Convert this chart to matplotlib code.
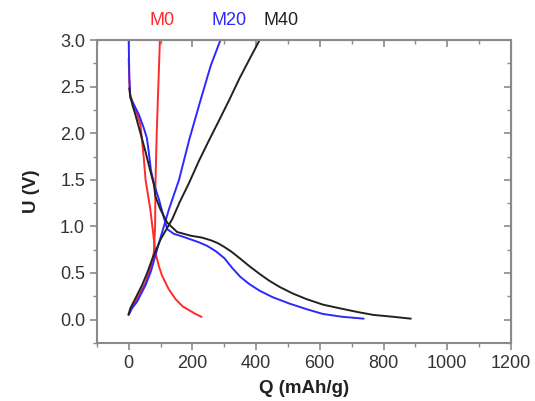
import matplotlib
matplotlib.use("Agg")
import matplotlib.pyplot as plt
import numpy as np

plt.rcParams['font.family'] = ['Liberation Sans', 'DejaVu Sans']

# M0
m0_dis_q = [0, 2, 4, 10, 25, 37, 47, 53, 60, 68, 76, 84, 95, 105, 125, 147, 170, 190, 210, 228]
m0_dis_u = [2.80, 2.55, 2.42, 2.36, 2.22, 2.09, 1.75, 1.50, 1.35, 1.18, 0.95, 0.72, 0.57, 0.47, 0.33, 0.22, 0.14, 0.10, 0.06, 0.03]
m0_chg_q = [0, 10, 21, 38, 53, 68, 79, 83, 84, 88, 93, 98]
m0_chg_u = [0.06, 0.12, 0.19, 0.30, 0.40, 0.55, 0.72, 1.00, 1.45, 2.00, 2.50, 3.00]

# M20
m20_dis_q = [0, 2, 5, 16, 32, 47, 57, 63, 70, 80, 95, 110, 121, 142, 170, 195, 220, 247, 275, 300,
             326, 350, 379, 411, 452, 506, 560, 610, 670, 737]
m20_dis_u = [3.00, 2.60, 2.38, 2.31, 2.20, 2.06, 1.95, 1.80, 1.60, 1.45, 1.29, 1.10, 0.97, 0.92, 0.89, 0.86, 0.83, 0.79, 0.73, 0.66,
             0.55, 0.46, 0.38, 0.31, 0.24, 0.17, 0.11, 0.06, 0.03, 0.01]
m20_chg_q = [0, 10, 26, 53, 70, 84, 100, 126, 158, 190, 226, 258, 288]
m20_chg_u = [0.05, 0.12, 0.19, 0.37, 0.52, 0.69, 0.88, 1.18, 1.50, 1.93, 2.36, 2.73, 3.00]

# M40
m40_dis_q = [2, 5, 12, 21, 37, 53, 66, 79, 84, 100, 121, 152, 195, 230, 259, 280, 300, 322, 348, 380, 411,
             440, 474, 515, 558, 610, 664, 720, 768, 830, 885]
m40_dis_u = [2.48, 2.40, 2.30, 2.20, 2.00, 1.80, 1.62, 1.45, 1.32, 1.18, 1.04, 0.94, 0.90, 0.88, 0.85, 0.82, 0.78, 0.73, 0.66, 0.57, 0.49,
             0.42, 0.35, 0.28, 0.22, 0.16, 0.12, 0.08, 0.05, 0.03, 0.01]
m40_chg_q = [0, 5, 20, 42, 58, 74, 100, 137, 160, 190, 220, 253, 284, 316, 348, 380, 411]
m40_chg_u = [0.06, 0.12, 0.22, 0.37, 0.50, 0.65, 0.86, 1.08, 1.26, 1.47, 1.70, 1.93, 2.14, 2.36, 2.59, 2.80, 3.00]

red = '#ff2a2a'
blue = '#2a2aff'
black = '#222222'
gray = '#8a8a8a'

fig = plt.figure(figsize=(5.35, 4.01), dpi=100)
ax = fig.add_axes([0.181, 0.145, 0.774, 0.755])

ax.plot(m0_dis_q, m0_dis_u, color=red, lw=1.4)
ax.plot(m0_chg_q, m0_chg_u, color=red, lw=1.4)
ax.plot(m20_dis_q, m20_dis_u, color=blue, lw=1.4)
ax.plot(m20_chg_q, m20_chg_u, color=blue, lw=1.4)
ax.plot(m40_dis_q, m40_dis_u, color=black, lw=1.4)
ax.plot(m40_chg_q, m40_chg_u, color=black, lw=1.4)

ax.set_xlim(-100, 1200)
ax.set_ylim(-0.25, 3.0)
ax.set_xticks(np.arange(0, 1201, 200))
ax.set_xticks(np.arange(-100, 1201, 100), minor=True)
ax.set_yticks(np.arange(0, 3.01, 0.5))
ax.set_yticks(np.arange(-0.25, 3.01, 0.25), minor=True)
ax.set_yticklabels(['%.1f' % v for v in np.arange(0, 3.01, 0.5)])

for s in ax.spines.values():
    s.set_color(gray)
    s.set_linewidth(1.5)

ax.tick_params(which='both', color=gray, labelcolor='#333333', labelsize=13)
ax.tick_params(which='major', length=5, width=1.2)
ax.tick_params(which='minor', length=3, width=1.0)

# mirrored ticks on top and right, inward, no labels
axt = ax.secondary_xaxis('top')
axt.set_xticks(np.arange(0, 1201, 200))
axt.set_xticks(np.arange(-100, 1201, 100), minor=True)
axt.tick_params(which='both', direction='in', color=gray, labeltop=False)
axt.tick_params(which='major', length=5, width=1.2)
axt.tick_params(which='minor', length=3, width=1.0)
axt.spines['top'].set_color(gray)
axr = ax.secondary_yaxis('right')
axr.set_yticks(np.arange(0, 3.01, 0.5))
axr.set_yticks(np.arange(-0.25, 3.01, 0.25), minor=True)
axr.tick_params(which='both', direction='in', color=gray, labelright=False)
axr.tick_params(which='major', length=5, width=1.2)
axr.tick_params(which='minor', length=3, width=1.0)
axr.spines['right'].set_color(gray)

ax.set_xlabel('Q (mAh/g)', fontweight='bold', fontsize=13.5, color='#222222', labelpad=6)
ax.set_ylabel('U (V)', fontweight='bold', fontsize=13.5, color='#222222', labelpad=14)

fig.text(0.303, 0.948, 'M0', color=red, fontsize=13, ha='center', va='center')
fig.text(0.428, 0.948, 'M20', color=blue, fontsize=13, ha='center', va='center')
fig.text(0.525, 0.948, 'M40', color=black, fontsize=13, ha='center', va='center')

fig.savefig('out.png', dpi=100)
